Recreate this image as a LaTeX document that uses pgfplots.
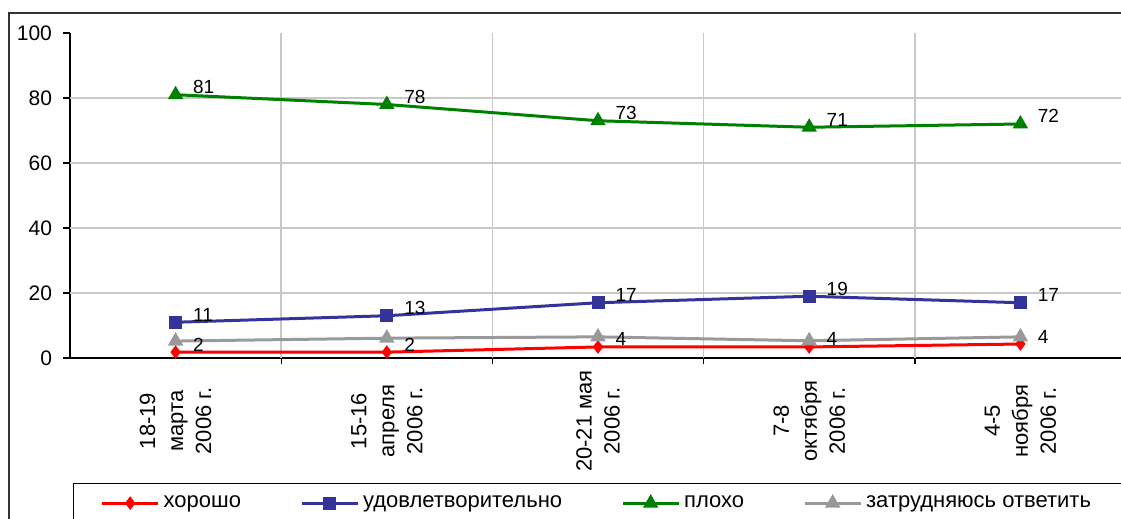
\documentclass[border=0pt]{standalone}
\usepackage{fontspec}
\setmainfont{Liberation Sans}
\usepackage{pgfplots}
\pgfplotsset{compat=1.18}
\definecolor{cRed}{HTML}{FF0000}
\definecolor{cBlue}{HTML}{333399}
\definecolor{cGreen}{HTML}{008000}
\definecolor{cGray}{HTML}{999999}
\definecolor{cGrid}{HTML}{C8C8C8}
\begin{document}
\begin{tikzpicture}
\begin{axis}[
  at={(35pt,80.5pt)}, anchor=south west,
  scale only axis, width=528pt, height=162.5pt,
  xmin=-0.5, xmax=4.5, ymin=0, ymax=100,
  clip=false,
  axis lines=left,
  axis line style={-, black, line width=0.7pt},
  tick align=outside,
  major tick length=3.5pt,
  tick style={black, line width=0.7pt},
  ytick={0,20,40,60,80,100},
  /pgf/number format/assume math mode=true,
  y tick label style={font=\fontsize{10.5}{12}\selectfont, xshift=-2pt},
  extra y ticks={20,40,60,80},
  extra y tick labels={},
  extra y tick style={grid=major, major tick length=0pt},
  grid style={cGrid, line width=0.75pt},
  xtick={0,1,2,3,4},
  xticklabels={{18-19\\марта\\2006 г.},{15-16\\апреля\\2006 г.},{20-21 мая\\2006 г.},{7-8\\октября\\2006 г.},{4-5\\ноября\\2006 г.}},
  x tick label style={yshift=-28pt, rotate=90, anchor=center, align=center, font=\fontsize{11}{14}\selectfont},
  xtick style={draw=none},
  extra x ticks={0.5,1.5,2.5,3.5},
  extra x tick labels={},
  extra x tick style={grid=major, xtick style={draw=black}, major tick length=3pt},
  every axis plot/.append style={line width=1.5pt},
  nodes near coords style={anchor=base west, inner sep=0pt, xshift=8pt, yshift=0.5pt, font=\fontsize{9.5}{11}\selectfont, black},
  legend columns=4,
  legend cell align=left,
  legend style={at={(0.00284,-0.3846)}, anchor=north west, draw=black, line width=0.7pt,
    font=\fontsize{11}{13}\selectfont, inner xsep=13.5pt, inner ysep=4pt,
    /tikz/every even column/.append style={column sep=27.5pt}},
  legend image code/.code={\draw[#1, mark repeat=2, mark phase=2, line width=1.5pt] plot coordinates {(0pt,0pt) (14pt,0pt) (28pt,0pt)};},
]
\addplot[cRed, mark=diamond*, mark size=2.2pt, mark options={solid, fill=cRed}, nodes near coords, point meta=explicit symbolic]
  coordinates {(0,1.8)[2] (1,1.8)[2] (2,3.4)[4] (3,3.4)[4] (4,4.3)[4]};
\addlegendentry{хорошо}
\addplot[cBlue, mark=square*, mark size=2.5pt, mark options={solid, fill=cBlue}, nodes near coords, point meta=explicit symbolic]
  coordinates {(0,11)[11] (1,13)[13] (2,17)[17] (3,19)[19] (4,17)[17]};
\addlegendentry{удовлетворительно}
\addplot[cGreen, mark=triangle*, mark size=3pt, mark options={solid, fill=cGreen}, nodes near coords, point meta=explicit symbolic]
  coordinates {(0,81)[81] (1,78)[78] (2,73)[73] (3,71)[71] (4,72)[72]};
\addlegendentry{плохо}
\addplot[cGray, mark=triangle*, mark size=3pt, mark options={solid, fill=cGray}]
  coordinates {(0,5.2) (1,6.1) (2,6.5) (3,5.3) (4,6.5)};
\addlegendentry{затрудняюсь ответить}
\end{axis}
\draw[black!80, line width=1.2pt] (4.5pt,-20pt) -- (4.5pt,253pt) -- (600pt,253pt);
\pgfresetboundingbox
\useasboundingbox (0pt,0pt) rectangle (560.5pt,259.5pt);
\end{tikzpicture}
\end{document}
